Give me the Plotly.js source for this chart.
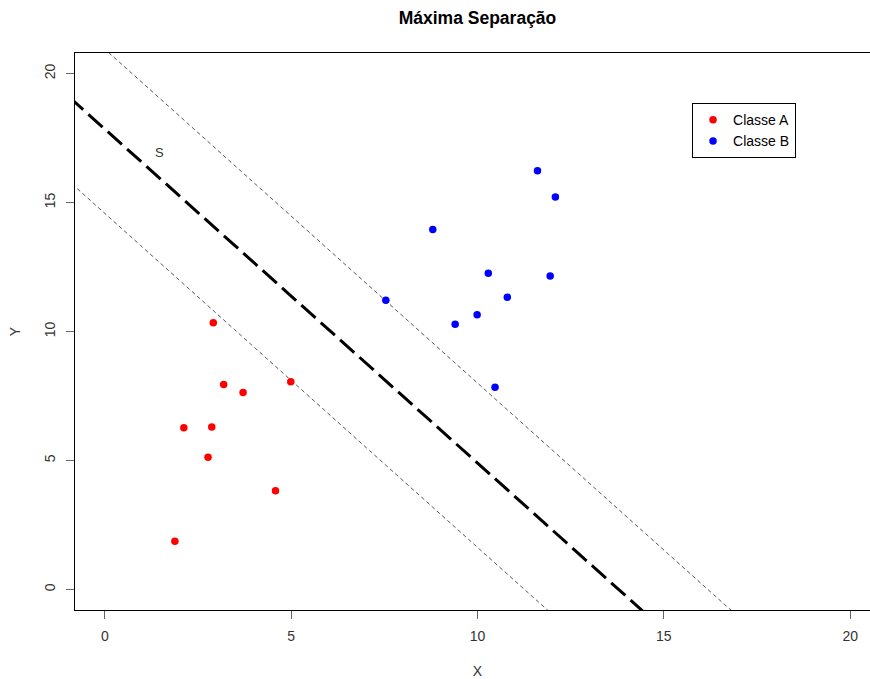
<!DOCTYPE html>
<html><head><meta charset="utf-8">
<script src="https://cdn.plot.ly/plotly-3.0.1.min.js"></script>
<style>html,body{margin:0;padding:0;overflow:hidden;background:#fff;}</style>
</head><body><div id="chart"></div>
<script>
// Data
const classeA_x = [2.91, 3.19, 3.71, 4.99, 2.12, 2.87, 2.77, 4.58, 1.88];
const classeA_y = [10.34, 7.94, 7.63, 8.05, 6.27, 6.30, 5.12, 3.82, 1.87];
const classeB_x = [11.61, 12.09, 8.80, 10.29, 11.95, 10.80, 7.54, 9.99, 9.40, 10.47];
const classeB_y = [16.23, 15.22, 13.96, 12.26, 12.15, 11.33, 11.21, 10.65, 10.28, 7.84];
// Separating hyperplane and margins: y = a + b*x
const lineIntercepts = [17.85, 20.95, 14.58];
const lineSlope = -1.295;
const lineXs = [-2, 22];
const tickVals = [0, 5, 10, 15, 20];
const tickText = ['0', '5', '10', '15', '20'];

const font = 'Liberation Sans, Arial, sans-serif';
function lineTrace(a, style) {
  return {x: lineXs, y: lineXs.map(x => a + lineSlope * x), mode: 'lines',
    line: style, showlegend: false, hoverinfo: 'skip'};
}
const traces = [
  lineTrace(lineIntercepts[0], {color: '#000', width: 3, dash: '19px,7px'}),
  lineTrace(lineIntercepts[1], {color: '#444', width: 0.9, dash: '4px,3px'}),
  lineTrace(lineIntercepts[2], {color: '#444', width: 0.9, dash: '4px,3px'}),
  {x: classeA_x, y: classeA_y, mode: 'markers', name: 'Classe A',
   marker: {color: '#ff0000', size: 7.5}},
  {x: classeB_x, y: classeB_y, mode: 'markers', name: 'Classe B',
   marker: {color: '#0000ff', size: 7.5}}
];
const axisCommon = {
  showgrid: false, zeroline: false, showline: true, mirror: true,
  linecolor: '#000', linewidth: 1, ticks: 'outside', ticklen: 8, tickwidth: 1,
  tickcolor: '#666', tickvals: tickVals, ticktext: tickText, ticklabelstandoff: 5,
  tickfont: {family: font, size: 14, color: '#333'}
};
const layout = {
  width: 880, height: 679,
  margin: {l: 75, r: 0, t: 53, b: 69},
  paper_bgcolor: '#fff', plot_bgcolor: '#fff',
  title: {text: '<b>Máxima Separação</b>', x: 0.5, xref: 'paper', xanchor: 'center',
    y: 0.973, yanchor: 'middle',
    font: {family: font, size: 17.5, color: '#000'}},
  xaxis: Object.assign({}, axisCommon, {range: [-0.8, 20.8],
    title: {text: 'X', standoff: 24, font: {family: font, size: 14, color: '#333'}}}),
  yaxis: Object.assign({}, axisCommon, {range: [-0.8, 20.8], tickangle: -90,
    title: {text: 'Y', standoff: 18, font: {family: font, size: 14, color: '#333'}}}),
  legend: {x: 0.7665, y: 0.91, xanchor: 'left', yanchor: 'top', bgcolor: '#fff',
    bordercolor: '#000', borderwidth: 1, font: {family: font, size: 14, color: '#000'},
    itemwidth: 30, tracegroupgap: 0},
  annotations: [{x: 1.48, y: 16.93, text: 'S', showarrow: false,
    font: {family: font, size: 13, color: '#333'}}],
  showlegend: true
};
Plotly.newPlot('chart', traces, layout, {displayModeBar: false, staticPlot: true});
</script></body></html>
